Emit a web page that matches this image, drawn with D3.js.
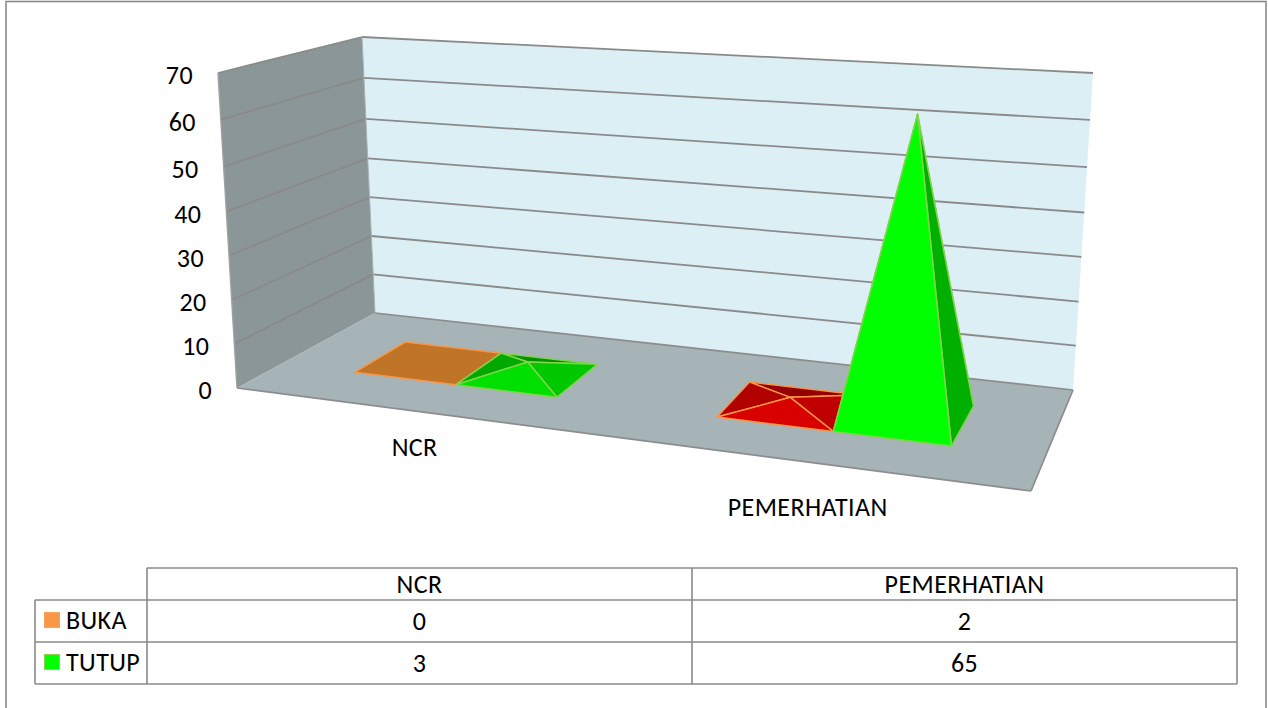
<!DOCTYPE html>
<html><head><meta charset="utf-8">
<script src="https://cdn.jsdelivr.net/npm/d3@7"></script>
<style>html,body{margin:0;padding:0;background:#fff}svg{display:block}text{font-family:Carlito,Lato,"Open Sans",sans-serif;fill:#000;letter-spacing:.4px}</style>
</head><body><svg id="c" width="1268" height="708"></svg>
<script>
const categories = ["NCR", "PEMERHATIAN"];
const seriesNames = ["BUKA", "TUTUP"];
const buka = [0, 2];
const tutup = [3, 65];
const yTicks = [0, 10, 20, 30, 40, 50, 60, 70];

const W = 1268, H = 708, FS = 26;
const svg = d3.select("#c");
const corner = {
  fl0:[237,388], fr0:[1031,491], bl0:[375,313], br0:[1073,390],
  fl1:[218,73],  fr1:[1053,129], bl1:[362,37],  br1:[1093,73]
};
// slightly perspective-compressed value scale
const hScale = d3.scaleLinear().domain(yTicks).range([0,.14,.279,.42,.56,.703,.852,1]);
const uCat = d3.scaleOrdinal().domain(categories).range([.095,.57]);
const uWidth = [[.1325,.1325],[.1525,.155]];
const lerp = (a,b,t)=>[a[0]+(b[0]-a[0])*t, a[1]+(b[1]-a[1])*t];
function P(u,d,v){
  const h = hScale(v);
  const f0 = lerp(corner.fl0,corner.fr0,u), b0 = lerp(corner.bl0,corner.br0,u);
  const f1 = lerp(corner.fl1,corner.fr1,u), b1 = lerp(corner.bl1,corner.br1,u);
  return lerp(lerp(f0,b0,d), lerp(f1,b1,d), h);
}
const poly = (pts,fill,stroke,sw)=>svg.append("polygon")
  .attr("points",pts.map(p=>p.join(",")).join(" "))
  .attr("fill",fill).attr("stroke",stroke||"none").attr("stroke-width",sw||0).attr("stroke-linejoin","round");
const seg = (a,b,col,w)=>svg.append("line").attr("x1",a[0]).attr("y1",a[1]).attr("x2",b[0]).attr("y2",b[1]).attr("stroke",col).attr("stroke-width",w);

// page frame
svg.append("rect").attr("x",6).attr("y",1.5).attr("width",1260).attr("height",H+20)
  .attr("fill","#fff").attr("stroke","#8a8a8a").attr("stroke-width",1.6);

// walls and floor
poly([corner.bl1,corner.br1,corner.br0,corner.bl0],"#dceff5");
poly([corner.fl1,corner.bl1,corner.bl0,corner.fl0],"#8b9699");
poly([corner.fl0,corner.bl0,corner.br0,corner.fr0],"#a6b3b7");
yTicks.filter(v=>v>0).forEach(v=>{
  const a=P(0,0,v), b=P(0,1,v), c=P(1,1,v);
  seg(a,b,"#8a8a8a",1.8); seg(b,c,"#8a8a8a",1.8);
});
seg(corner.fl1,corner.fl0,"#a0a0a0",1.4);
seg(corner.bl1,corner.bl0,"#a8b0b4",1);
seg(corner.fl0,corner.fr0,"#8c8c8c",1.7);
seg(corner.fr0,corner.br0,"#8c8c8c",1.7);
seg(corner.br0,corner.bl0,"#8c8c8c",1.7);

// axis labels
yTicks.forEach(v=>{
  const p=P(0,0,v);
  svg.append("text").attr("x",p[0]-25).attr("y",p[1]+5).attr("text-anchor","end")
    .attr("dominant-baseline","middle").attr("font-size",FS).text(v);
});

// pyramids
const styles = {
  orangeFlat:{base:"#c07428",stroke:"#f79646"},
  red:{front:"#d90000",left:"#b00000",right:"#c00000",back:"#950000",stroke:"#f79646"},
  green:{front:"#00e000",left:"#00a800",right:"#00c800",back:"#009000",stroke:"#7fd44c"},
  greenTall:{front:"#00ff00",left:"#00a800",right:"#00b000",back:"#009000",stroke:"#7fd44c"}
};
function pyramid(u0,u1,value,s,d1){
  const d0=.33;
  const fl=P(u0,d0,0),fr=P(u1,d0,0),br=P(u1,d1,0),bl=P(u0,d1,0);
  if(value===0){ poly([fl,fr,br,bl],s.base,s.stroke,1.5); return; }
  const a=P((u0+u1)/2,(d0+d1)/2,value);
  const sw=1.5;
  poly([bl,br,a],s.back,s.stroke,sw);
  poly([bl,fl,a],s.left,s.stroke,sw);
  poly([br,fr,a],s.right,s.stroke,sw);
  poly([fl,fr,a],s.front,s.stroke,sw);
}
categories.forEach((c,i)=>{
  const u=uCat(c), w=uWidth[i];
  pyramid(u,u+w[0],buka[i], buka[i]===0?styles.orangeFlat:styles.red,.72);
  pyramid(u+w[0],u+w[0]+w[1],tutup[i], tutup[i]>10?styles.greenTall:styles.green,tutup[i]>10?.74:.72);
});

// category labels
categories.forEach((c,i)=>{
  const u=uCat(c)+uWidth[i][0];
  const f=P(u,0,0);
  svg.append("text").attr("x",f[0]-3).attr("y",f[1]+38+i*9).attr("text-anchor","middle")
    .attr("dominant-baseline","middle").attr("font-size",FS).text(c);
});

// data table
const tx=[35,147,692,1237], ty=[568,600,642,684];
const lc="#8a8a8a";
seg([tx[1],ty[0]],[tx[3],ty[0]],lc,1.6);
seg([tx[0],ty[1]],[tx[3],ty[1]],lc,1.6);
seg([tx[0],ty[2]],[tx[3],ty[2]],lc,1.6);
seg([tx[0],ty[3]],[tx[3],ty[3]],lc,1.6);
seg([tx[0],ty[1]],[tx[0],ty[3]],lc,1.6);
seg([tx[1],ty[0]],[tx[1],ty[3]],lc,1.6);
seg([tx[2],ty[0]],[tx[2],ty[3]],lc,1.6);
seg([tx[3],ty[0]],[tx[3],ty[3]],lc,1.6);
const cell=(x,y,t,anchor)=>svg.append("text").attr("x",x).attr("y",y).attr("text-anchor",anchor||"middle")
  .attr("dominant-baseline","middle").attr("font-size",FS).text(t);
categories.forEach((c,i)=>{
  const cx=(tx[i+1]+tx[i+2])/2;
  cell(cx,ty[0]+19,c);
  cell(cx,ty[1]+24,buka[i]);
  cell(cx,ty[2]+24,tutup[i]);
});
const swatch=[["#f79646","#f9a25c"],["#00ff00","#92d050"]];
seriesNames.forEach((n,i)=>{
  svg.append("rect").attr("x",44.5).attr("y",ty[i+1]+12.5).attr("width",15).attr("height",15)
    .attr("fill",swatch[i][0]).attr("stroke",swatch[i][1]).attr("stroke-width",1);
  cell(66,ty[i+1]+23,n,"start");
});
</script></body></html>
